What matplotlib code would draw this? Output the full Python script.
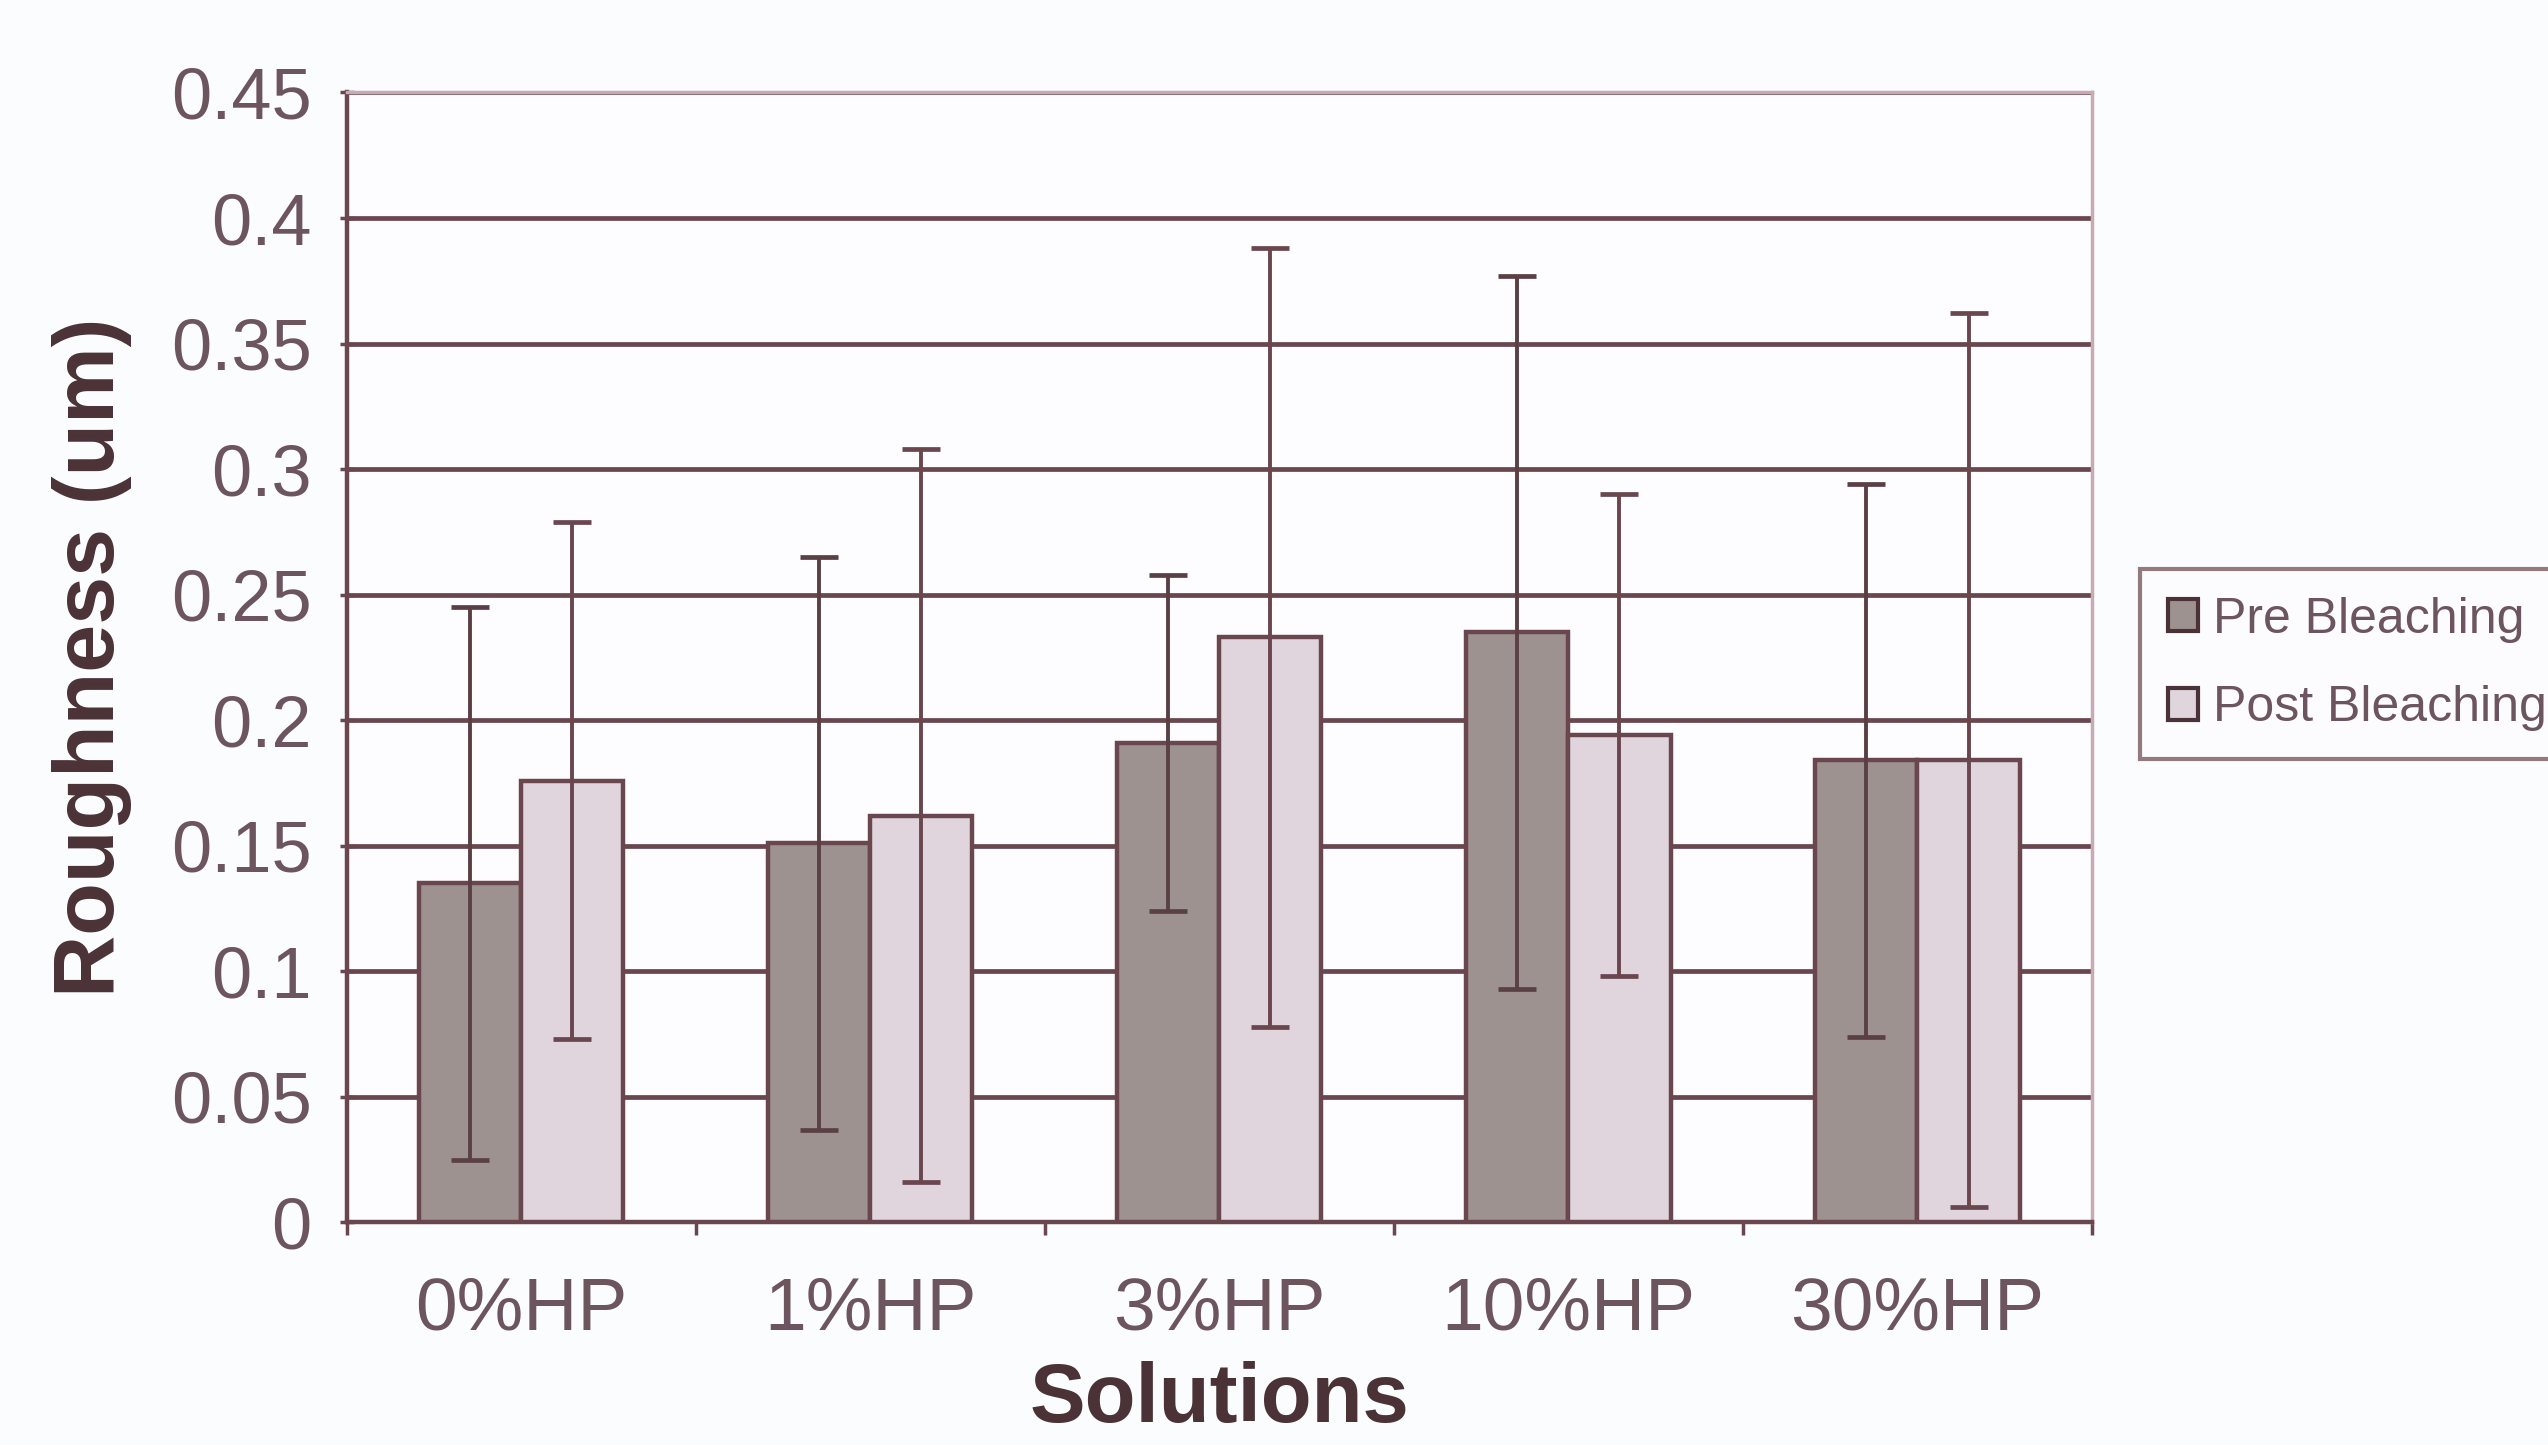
import numpy as np
import matplotlib
matplotlib.use("Agg")
import matplotlib.pyplot as plt
from matplotlib.patches import Patch

# Surface roughness before/after bleaching for each peroxide solution
solutions = ["0%HP", "1%HP", "3%HP", "10%HP", "30%HP"]
pre_mean = [0.135, 0.151, 0.191, 0.235, 0.184]
pre_err = [0.110, 0.114, 0.067, 0.142, 0.110]
post_mean = [0.176, 0.162, 0.233, 0.194, 0.184]
post_err = [0.103, 0.146, 0.155, 0.096, 0.178]
series_names = ["Pre Bleaching", "Post Bleaching"]
y_ticks = [0, 0.05, 0.1, 0.15, 0.2, 0.25, 0.3, 0.35, 0.4, 0.45]
y_tick_labels = ["0", "0.05", "0.1", "0.15", "0.2", "0.25", "0.3", "0.35", "0.4", "0.45"]

plt.rcParams["font.family"] = ["Liberation Sans", "DejaVu Sans"]

line_col = "#6a464e"
text_col = "#6c555d"
label_col = "#4a3236"
pre_col = "#9d928f"
post_col = "#e0d5dd"
frame_col = "#c9aab2"

fig = plt.figure(figsize=(25.48, 14.45), dpi=100, facecolor="#fbfcfe")
ax = fig.add_axes([0.136, 0.154, 0.685, 0.782])
ax.set_facecolor("#fdfdff")

x = np.arange(len(solutions))
w = 0.293
ax.bar(x - w / 2, pre_mean, w, color=pre_col, edgecolor=line_col, linewidth=3.2, zorder=3)
ax.bar(x + w / 2, post_mean, w, color=post_col, edgecolor=line_col, linewidth=3.2, zorder=3)
ax.errorbar(x - w / 2, pre_mean, yerr=pre_err, fmt="none", ecolor="#5a4044",
            elinewidth=2.8, capsize=14, capthick=3.4, zorder=4)
ax.errorbar(x + w / 2, post_mean, yerr=post_err, fmt="none", ecolor=line_col,
            elinewidth=2.8, capsize=14, capthick=3.4, zorder=4)

ax.set_xlim(-0.5, len(solutions) - 0.5)
ax.set_ylim(0, 0.45)
ax.set_yticks(y_ticks)
ax.set_yticklabels(y_tick_labels)
ax.yaxis.grid(True, color=line_col, linewidth=3.4, zorder=1)
ax.set_axisbelow(True)

# Category labels sit between group-boundary ticks
ax.set_xticks(np.arange(-0.5, len(solutions), 1.0))
ax.set_xticklabels([])
ax.set_xticks(x, minor=True)
ax.set_xticklabels(solutions, minor=True)
ax.tick_params(axis="x", which="major", length=9, width=2.5, color=line_col, direction="out")
ax.tick_params(axis="x", which="minor", length=0, pad=38, labelsize=54, labelcolor=text_col)
ax.tick_params(axis="y", length=10, width=2.5, color=line_col, direction="inout",
               pad=20, labelsize=52, labelcolor=text_col)

for side in ["left", "bottom"]:
    ax.spines[side].set_color(line_col)
    ax.spines[side].set_linewidth(3.2)
for side in ["top", "right"]:
    ax.spines[side].set_color(frame_col)
    ax.spines[side].set_linewidth(2.5)

ax.set_xlabel("Solutions", fontsize=60, fontweight="bold", color=label_col, labelpad=12)
ax.set_ylabel("Roughness (um)", fontsize=62, fontweight="bold", color=label_col, labelpad=28)

handles = [Patch(facecolor=pre_col, edgecolor=label_col, linewidth=3),
           Patch(facecolor=post_col, edgecolor=label_col, linewidth=3)]
leg = fig.legend(handles, series_names, loc="upper left", bbox_to_anchor=(0.840, 0.606),
                 fontsize=36, frameon=True, fancybox=False, handlelength=0.6,
                 handleheight=0.6, handletextpad=0.3, borderpad=0.55, labelspacing=0.85,
                 borderaxespad=0)
leg.get_frame().set_edgecolor("#7a5a5e")
leg.get_frame().set_linewidth(3)
leg.get_frame().set_facecolor("#fdfdff")
for t in leg.get_texts():
    t.set_color(text_col)

fig.savefig("out.png", dpi=100, facecolor=fig.get_facecolor())
